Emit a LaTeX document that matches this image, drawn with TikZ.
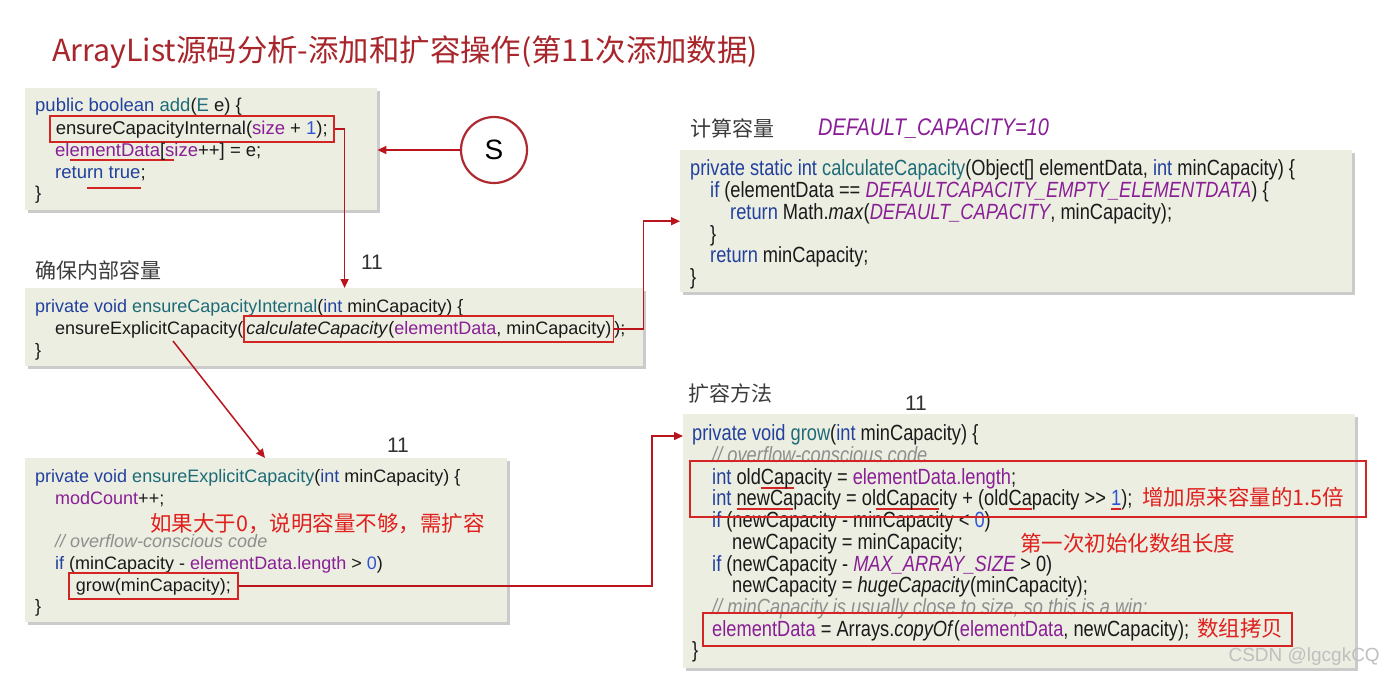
\documentclass[tikz,border=0pt]{standalone}
\usepackage{fontspec}
\setmainfont{Liberation Sans}
\newfontfamily\narrowcode[FakeStretch=0.83]{Liberation Sans}
\newfontfamily\cjk{Noto Sans CJK SC}
\usepackage{xcolor}
\usetikzlibrary{positioning, calc, fit, shadows, arrows.meta}
\definecolor{slide}{HTML}{ECEEE1}
\definecolor{ink}{HTML}{1A1A1A}
\definecolor{kw}{HTML}{22409E}
\definecolor{meth}{HTML}{1E6B78}
\definecolor{field}{HTML}{8A1E96}
\definecolor{numb}{HTML}{2F55D4}
\definecolor{note}{HTML}{8E8E8E}
\definecolor{mark}{HTML}{E0201E}
\definecolor{boxred}{HTML}{D42525}
\definecolor{flowred}{HTML}{BA141C}
\definecolor{circred}{HTML}{AE2A30}
\definecolor{headline}{HTML}{A8262B}

\newcommand\kwd[1]{\textcolor{kw}{#1}}
\newcommand\mth[1]{\textcolor{meth}{#1}}
\newcommand\fld[1]{\textcolor{field}{#1}}
\newcommand\nmb[1]{\textcolor{numb}{#1}}
\newcommand\cmt[1]{\textcolor{note}{\itshape #1}}
\newsavebox\ulbox
\newcommand\redul[2][-5.2pt]{\sbox\ulbox{#2}\rlap{\textcolor{boxred}{\rule[#1]{\wd\ulbox}{2.4pt}}}\usebox\ulbox}

\begin{document}
\begin{tikzpicture}[x=1pt, y=-1pt,
  slidebox/.style={fill=slide, anchor=north west, inner sep=0pt,
    drop shadow={shadow xshift=3pt, shadow yshift=-3pt, fill=black!45, opacity=0.45}},
  code/.style={anchor=base west, inner sep=0pt, text=ink, font=\fontsize{18.5}{22}\selectfont},
  tcode/.style={code, font=\fontsize{18}{22}\selectfont},
  ncode/.style={anchor=base west, inner sep=0pt, text=ink, font=\narrowcode\fontsize{22}{22}\selectfont},
  redframe/.style={draw=boxred, line width=1.6pt, inner xsep=6pt, inner ysep=4pt, text height=14pt, text depth=4pt},
  bigframe/.style={draw=boxred, line width=2pt, inner sep=0pt},
  heading/.style={anchor=west, inner sep=0pt, text=ink!85, font=\cjk\fontsize{21}{24}\selectfont},
  hint/.style={anchor=base west, inner sep=0pt, text=mark, font=\cjk\fontsize{21.5}{24}\selectfont},
  count/.style={inner sep=0pt, text=ink!90, font=\fontsize{21}{24}\selectfont},
  flow/.style={draw=flowred, line width=1.5pt, -{Triangle[length=9pt,width=8pt]}}
]
  \fill[white] (0,0) rectangle (1386,681);
  \useasboundingbox (0,0) rectangle (1386,681);

  % Title
  \node[anchor=west, inner sep=0pt, text=headline, font=\cjk\fontsize{30.4}{36}\selectfont] (title) at (52,52)
    {ArrayList源码分析-添加和扩容操作(第11次添加数据)};

  % add()
  \node[slidebox, minimum width=352pt, minimum height=122pt] (addbox) at (25,88) {};
  \node[code] (a1) at (35,111) {\kwd{public boolean} \mth{add}(\mth{E} e) \{};
  \node[code, redframe] (ensurebox) at (49,134) {ensureCapacityInternal(\fld{size} + \nmb{1});};
  \node[code] (a3) at (55,156) {\fld{el}\redul{\fld{ementData}[\fld{s}}\fld{ize}++] = e;};
  \node[code] (a4) at (55,178) {\kwd{retu\redul[-11pt]{rn true}};};
  \node[code] (a5) at (35,199) {\}};
  \node[circle, draw=circred, line width=2.2pt, minimum size=66pt, inner sep=0pt,
    font=\fontsize{28}{30}\selectfont] (start) at (494,150) {S};

  % ensureCapacityInternal()
  \node[heading] (h1) at (35,270) {\cjk 确保内部容量};
  \node[count] (c1) at (372,262) {11};
  \node[slidebox, minimum width=618pt, minimum height=78pt] (internalbox) at (25,288) {};
  \node[tcode] (i1) at (35,312) {\kwd{private void} \mth{ensureCapacityInternal}(\kwd{int} minCapacity) \{};
  \node[tcode] (i2) at (55,334) {ensureExplicitCapacity(};
  \node[tcode, redframe, inner xsep=2pt] (calcbox) at (i2.base east) {\textit{calculateCapacity}(\fld{elementData}, minCapacity)};
  \node[tcode] (i3) at (calcbox.base east) {);};
  \node[tcode] (i4) at (35,356) {\}};

  % calculateCapacity()
  \node[heading] (h2) at (690,128) {计算容量};
  \node[anchor=west, inner sep=0pt, text=field, font=\narrowcode\itshape\fontsize{24}{26}\selectfont] (dflt) at (818,129) {DEFAULT\_CAPACITY=10};
  \node[slidebox, minimum width=672pt, minimum height=142pt] (calcmeth) at (680,150) {};
  \node[ncode] (k1) at (690,175) {\kwd{private static int} \mth{calculateCapacity}(Object[] elementData, \kwd{int} minCapacity) \{};
  \node[ncode] (k2) at (710,197) {\kwd{if} (elementData == \fld{\itshape DEFAULTCAPACITY\_EMPTY\_ELEMENTDATA}) \{};
  \node[ncode] (k3) at (730,219) {\kwd{return} Math.\textit{max}(\fld{\itshape DEFAULT\_CAPACITY}, minCapacity);};
  \node[ncode] (k4) at (710,241) {\}};
  \node[ncode] (k5) at (710,262) {\kwd{return} minCapacity;};
  \node[ncode] (k6) at (690,284) {\}};

  % ensureExplicitCapacity()
  \node[count] (c2) at (398,445) {11};
  \node[slidebox, minimum width=482pt, minimum height=164pt] (explicitbox) at (25,458) {};
  \node[tcode] (e1) at (35,482) {\kwd{private void} \mth{ensureExplicitCapacity}(\kwd{int} minCapacity) \{};
  \node[tcode] (e2) at (55,504) {\fld{modCount}++;};
  \node[hint] (morehint) at (150,531) {如果大于0，说明容量不够，需扩容};
  \node[tcode] (e3) at (55,547) {\cmt{// overflow-conscious code}};
  \node[tcode] (e4) at (55,569) {\kwd{if} (minCapacity - \fld{elementData.length} > \nmb{0})};
  \node[tcode, redframe, inner xsep=7pt] (growcall) at (68,591) {grow(minCapacity);};
  \node[tcode] (e5) at (35,612) {\}};

  % grow()
  \node[heading] (h3) at (688,393) {扩容方法};
  \node[count] (c3) at (916,403) {11};
  \node[slidebox, minimum width=672pt, minimum height=254pt] (growmeth) at (683,414) {};
  \node[ncode] (g1) at (692,440) {\kwd{private void} \mth{grow}(\kwd{int} minCapacity) \{};
  \node[ncode] (g2) at (712,462) {\cmt{// overflow-conscious code}};
  \node[ncode] (g3) at (712,484) {\kwd{int} old\redul{Cap}acity = \fld{elementData.length};};
  \node[ncode] (g4) at (712,505) {\kwd{int} \redul{newCa}pacity = ol\redul{dCapac}ity + (old\redul{Ca}pacity >> \redul{\nmb{1}});};
  \node[ncode] (g5) at (712,527) {\kwd{if} (newCapacity - minCapacity < \nmb{0})};
  \node[ncode] (g6) at (732,549) {newCapacity = minCapacity;};
  \node[ncode] (g7) at (712,571) {\kwd{if} (newCapacity - \fld{\itshape MAX\_ARRAY\_SIZE} > 0)};
  \node[ncode] (g8) at (732,592) {newCapacity = \textit{hugeCapacity}(minCapacity);};
  \node[ncode] (g9) at (712,614) {\cmt{// minCapacity is usually close to size, so this is a win:}};
  \node[ncode] (g10) at (712,636) {\fld{elementData} = Arrays.\textit{copyOf}(\fld{elementData}, newCapacity);};
  \node[ncode] (g11) at (692,657) {\}};
  \node[hint] (halfhint) at (1142,505) {增加原来容量的1.5倍};
  \node[hint] (firsthint) at (1020,551) {第一次初始化数组长度};
  \node[hint] (copyhint) at (1197,636) {数组拷贝};
  \node[bigframe, fit=(g3)(g4)(halfhint), inner xsep=22pt, inner ysep=7pt] (growframe) {};
  \node[bigframe, fit=(g10)(copyhint), inner xsep=9pt, inner ysep=5pt] (copyframe) {};

  % Calls
  \draw[flow] (start.west) -- (start.west -| addbox.east);
  \draw[flow] (ensurebox.east) -| ([xshift=10pt]ensurebox.east |- internalbox.north);
  \draw[flow] (calcbox.east) -- (calcbox.east -| internalbox.east) |- (calcmeth.west);
  \coordinate (fork) at (173,341);
  \draw[flow] (fork) -- ([xshift=240pt]explicitbox.north west);
  \coordinate (growin) at ([yshift=-22pt]growmeth.north west);
  \draw[flow] (growcall.east) -| ([xshift=-31pt]growin) -- (growin);

  \node[anchor=east, inner sep=0pt, text=black!25, font=\fontsize{19}{22}\selectfont] (wmark) at (1380,657) {CSDN @lgcgkCQ};
\end{tikzpicture}
\end{document}
